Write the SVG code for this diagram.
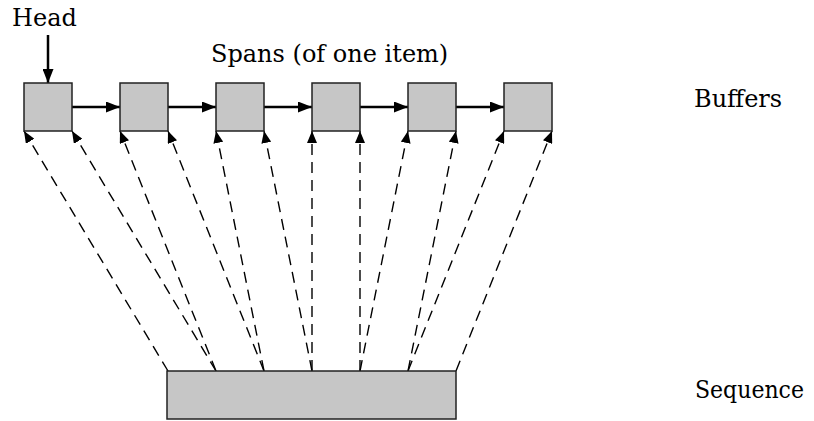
<svg xmlns="http://www.w3.org/2000/svg" width="814" height="421" viewBox="0 0 814 421">
<defs>
<marker id="ah" markerWidth="14" markerHeight="11" refX="14" refY="5.5" orient="auto" markerUnits="userSpaceOnUse">
<path d="M0,0 L14,5.5 L0,11 Z" fill="#000"/>
</marker>
<marker id="ahd" markerWidth="12" markerHeight="10" refX="12" refY="5" orient="auto" markerUnits="userSpaceOnUse">
<path d="M0,0 L12,5 L0,10 Z" fill="#000"/>
</marker>
<style>
.box{fill:#c6c6c6;stroke:#222;stroke-width:1.5}
.lbl{font-family:"DejaVu Serif",serif;font-size:24px;fill:#000}
.solid{stroke:#000;stroke-width:2.5;fill:none;marker-end:url(#ah)}
.dash{stroke:#000;stroke-width:1.4;fill:none;stroke-dasharray:11,7;marker-end:url(#ahd)}
</style>
</defs>
<rect width="814" height="421" fill="#fff"/>
<g id="connectors">
<line class="solid" x1="48" y1="35" x2="48" y2="83"/>
<line class="solid" x1="72" y1="107" x2="120" y2="107"/>
<line class="solid" x1="168" y1="107" x2="216" y2="107"/>
<line class="solid" x1="264" y1="107" x2="312" y2="107"/>
<line class="solid" x1="360" y1="107" x2="408" y2="107"/>
<line class="solid" x1="456" y1="107" x2="504" y2="107"/>
<line class="dash" x1="168" y1="371" x2="24" y2="131"/>
<line class="dash" x1="216" y1="371" x2="72" y2="131"/>
<line class="dash" x1="216" y1="371" x2="120" y2="131"/>
<line class="dash" x1="264" y1="371" x2="168" y2="131"/>
<line class="dash" x1="264" y1="371" x2="216" y2="131"/>
<line class="dash" x1="312" y1="371" x2="264" y2="131"/>
<line class="dash" x1="312" y1="371" x2="312" y2="131"/>
<line class="dash" x1="360" y1="371" x2="360" y2="131"/>
<line class="dash" x1="360" y1="371" x2="408" y2="131"/>
<line class="dash" x1="408" y1="371" x2="456" y2="131"/>
<line class="dash" x1="408" y1="371" x2="504" y2="131"/>
<line class="dash" x1="456" y1="371" x2="552" y2="131"/>
</g>
<g id="buf1"><rect class="box" x="24" y="83" width="48" height="48"/></g>
<g id="buf2"><rect class="box" x="120" y="83" width="48" height="48"/></g>
<g id="buf3"><rect class="box" x="216" y="83" width="48" height="48"/></g>
<g id="buf4"><rect class="box" x="312" y="83" width="48" height="48"/></g>
<g id="buf5"><rect class="box" x="408" y="83" width="48" height="48"/></g>
<g id="buf6"><rect class="box" x="504" y="83" width="48" height="48"/></g>
<g id="sequence"><rect class="box" x="167" y="371" width="289" height="48"/></g>
<g id="labels">
<text class="lbl" x="12" y="26">Head</text>
<text class="lbl" x="211" y="62">Spans (of one item)</text>
<text class="lbl" x="694" y="107">Buffers</text>
<text class="lbl" x="695" y="398" textLength="109" lengthAdjust="spacingAndGlyphs">Sequence</text>
</g>
</svg>
